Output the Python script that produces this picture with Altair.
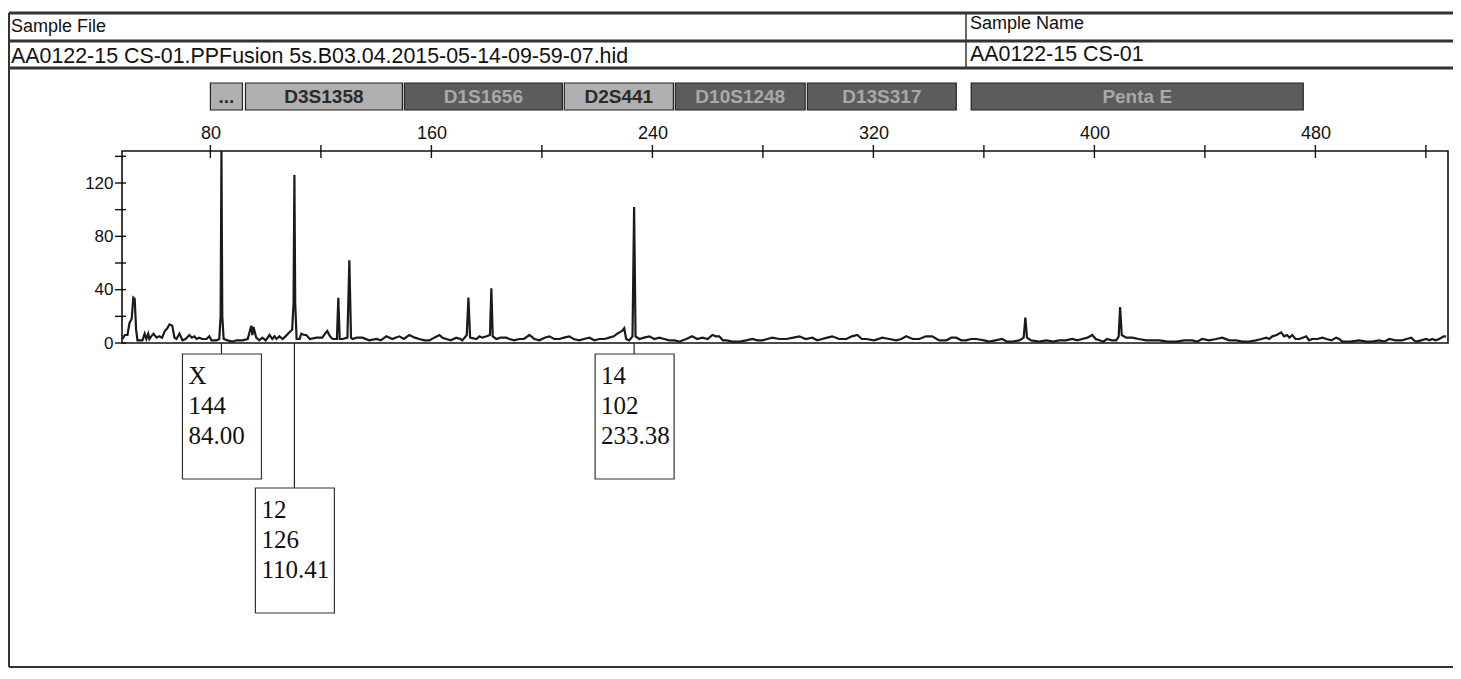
import altair as alt
import pandas as pd

# ---------------- data ----------------
trace_size = [48.2, 49.0, 50.0, 50.7, 51.5, 52.1, 52.6, 53.1, 53.6, 55.4, 56.2, 56.8, 57.5, 57.9, 58.6, 59.4,
              60.5, 61.5, 62.5, 63.5, 64.4, 65.2, 66.2, 67.0, 67.7, 68.8, 69.9, 71.0, 72.4, 73.3, 74.2, 75.0,
              76.0, 77.0, 78.6, 79.6, 80.4, 82.2, 83.2, 83.7, 84.0, 84.3, 84.8, 86.2, 88.0, 89.4, 91.6, 93.5,
              94.8, 95.2, 95.6, 96.6, 97.7, 98.8, 100.0, 101.4, 102.4, 103.2, 103.9, 105.0, 106.1, 107.2, 108.6,
              109.6, 110.1, 110.41, 110.7, 111.2, 112.3, 112.9, 114.0, 114.7, 116.0, 118.4, 120.5, 121.5, 122.3,
              123.3, 124.2, 125.8, 126.3, 126.8, 127.8, 129.6, 130.3, 130.9, 131.4, 133.0, 135.0, 137.5, 140.1,
              141.7, 143.7, 145.9, 147.0, 148.4, 150.0, 152.0, 154.0, 155.6, 157.5, 159.3, 161.0, 162.9, 164.0,
              165.4, 167.0, 169.0, 170.5, 171.2, 172.8, 173.4, 174.0, 176.3, 177.4, 178.4, 180.0, 181.2, 181.7,
              182.2, 183.5, 185.0, 187.1, 188.2, 190.0, 191.8, 193.5, 195.5, 197.3, 199.1, 201.0, 202.7, 204.5,
              206.3, 208.0, 209.9, 211.5, 213.5, 215.2, 217.2, 219.0, 220.8, 222.7, 224.4, 226.0, 227.3, 229.0,
              229.8, 230.5, 231.6, 232.8, 233.38, 233.9, 235.3, 237.0, 238.9, 240.7, 242.5, 244.3, 246.1, 248.0,
              249.8, 251.0, 252.3, 254.4, 256.2, 258.1, 260.0, 261.7, 263.0, 264.2, 265.5, 266.8, 269.0, 271.5,
              274.0, 276.2, 278.0, 279.8, 281.6, 283.4, 285.9, 288.5, 291.0, 293.2, 295.5, 297.9, 299.7, 301.5,
              303.3, 305.1, 307.6, 310.2, 312.2, 314.2, 315.8, 317.4, 320.3, 323.2, 325.7, 328.3, 330.1, 331.9,
              334.2, 336.6, 339.0, 341.3, 343.8, 346.4, 348.2, 350.0, 351.8, 353.6, 355.4, 357.2, 360.1, 361.9,
              364.2, 366.6, 368.4, 370.3, 372.8, 374.4, 375.0, 375.6, 377.1, 380.0, 382.6, 385.0, 387.3, 389.6,
              392.0, 393.8, 395.6, 397.5, 399.2, 400.5, 401.8, 403.2, 404.6, 406.3, 407.9, 408.8, 409.3, 409.9,
              411.5, 413.7, 416.0, 418.8, 421.0, 423.5, 426.5, 429.6, 432.5, 435.4, 437.2, 439.0, 441.5, 444.1,
              446.3, 448.8, 451.3, 453.6, 456.0, 458.5, 460.5, 462.2, 463.3, 464.4, 466.0, 467.6, 468.7, 469.8,
              470.6, 471.6, 472.8, 474.1, 475.4, 476.7, 477.7, 478.8, 480.7, 482.5, 484.0, 485.8, 487.5, 488.6,
              489.7, 492.7, 495.8, 498.4, 500.5, 503.1, 505.0, 506.7, 509.0, 511.4, 513.0, 514.7, 515.7, 516.5,
              518.3, 520.1, 521.3, 522.3, 523.5, 524.8, 526.5, 527.3]
trace_rfu = [3, 6, 6, 15, 18, 34, 33, 10, 2, 2, 7, 3, 7, 3, 5, 7,
             4, 5, 4, 9, 11, 14, 13, 4, 3, 7, 2, 3, 6, 4, 5, 3,
             4, 3, 3, 5, 2, 2, 3, 20, 144, 20, 3, 2, 1, 2, 2, 3,
             13, 6, 12, 4, 2, 4, 2, 6, 3, 5, 3, 5, 3, 5, 8,
             10, 30, 126, 30, 3, 3, 7, 6, 6, 3, 4, 4, 7, 9,
             5, 3, 3, 34, 3, 3, 4, 62, 4, 3, 4, 4, 2, 3,
             2, 5, 3, 4, 5, 3, 6, 4, 3, 2, 2, 4, 6, 4,
             3, 2, 4, 3, 2, 6, 34, 4, 3, 5, 4, 5, 6, 41,
             5, 3, 4, 4, 3, 2, 3, 3, 6, 3, 2, 4, 5, 3,
             3, 4, 5, 3, 2, 3, 4, 2, 3, 3, 4, 5, 7, 9,
             11, 3, 2, 5, 102, 5, 3, 4, 5, 3, 4, 3, 2, 2,
             1, 2, 3, 5, 3, 4, 3, 6, 5, 5, 2, 2, 1, 1,
             2, 3, 2, 2, 3, 4, 3, 3, 4, 5, 3, 4, 2, 3,
             4, 5, 3, 3, 5, 6, 3, 3, 2, 4, 3, 2, 3, 5,
             3, 3, 5, 5, 2, 2, 4, 4, 2, 2, 3, 3, 2, 1,
             2, 3, 1, 1, 2, 4, 19, 4, 2, 1, 2, 1, 2, 2,
             3, 2, 3, 4, 6, 3, 2, 1, 3, 2, 2, 5, 27, 6,
             4, 4, 3, 2, 2, 2, 1, 1, 2, 2, 1, 3, 2, 3,
             4, 2, 2, 1, 1, 2, 3, 4, 3, 5, 6, 8, 5, 6,
             4, 6, 3, 3, 4, 5, 2, 3, 3, 4, 3, 2, 4, 3,
             1, 1, 2, 1, 1, 2, 1, 3, 2, 2, 3, 4, 2, 1,
             2, 3, 2, 3, 2, 3, 5, 5]

# called alleles
allele_label = ["X", "12", "14"]
allele_height = [144, 126, 102]
allele_size = [84.00, 110.41, 233.38]
allele_row = [0, 1, 0]

# marker bins (bp)
marker_name = ["...", "D3S1358", "D1S1656", "D2S441", "D10S1248", "D13S317", "Penta E"]
marker_start = [80.0, 92.7, 150.2, 208.1, 248.3, 296.1, 355.4]
marker_end = [91.6, 149.5, 207.4, 247.6, 295.3, 350.0, 475.6]
marker_shade = ["light", "light", "dark", "light", "dark", "dark", "dark"]

x_tick_values = [80, 120, 160, 200, 240, 280, 320, 360, 400, 440, 480, 520]
x_label_values = [80, 160, 240, 320, 400, 480]
y_tick_values = [0, 20, 40, 60, 80, 100, 120, 140]
y_label_values = [0, 40, 80, 120]

sample_file_label = "Sample File"
sample_file = "AA0122-15 CS-01.PPFusion  5s.B03.04.2015-05-14-09-59-07.hid"
sample_name_label = "Sample Name"
sample_name = "AA0122-15 CS-01"

# ---------------- layout ----------------
W, H = 1326, 192
LEFT, TOP = 122, 151          # page position of the plot area


def VX(px):
    return px - LEFT


def VY(py):
    return py - TOP


xscale = alt.Scale(domain=[48, 528], nice=False, zero=False)
yscale = alt.Scale(domain=[0, 144], nice=False, zero=False)
xaxis = alt.Axis(orient="top", values=x_label_values, ticks=False, domain=False, grid=False,
                 labelPadding=9, labelFontSize=18, format="d", title=None)
yaxis = alt.Axis(values=y_label_values, ticks=False, domain=False, grid=False,
                 labelPadding=9, labelFontSize=17, format="d", title=None)

one = pd.DataFrame({"k": [0]})


def rule(x1, x2, y1, y2, w=2.5, color="#333"):
    return alt.Chart(one).mark_rule(strokeWidth=w, color=color).encode(
        x=alt.value(x1), x2=alt.value(x2), y=alt.value(y1), y2=alt.value(y2))


def label(text, px, py, size, font="Liberation Sans"):
    return alt.Chart(pd.DataFrame({"t": [text]})).mark_text(
        align="left", baseline="middle", font=font, fontSize=size, color="#111").encode(
        x=alt.value(VX(px)), y=alt.value(VY(py)), text="t:N")


# header frame
header = [
    rule(VX(9), VX(1453), VY(13), VY(13), 3.2),
    rule(VX(9), VX(1453), VY(41), VY(41), 3),
    rule(VX(9), VX(1453), VY(68), VY(68), 3),
    rule(VX(966), VX(966), VY(13), VY(68), 1.5),
    rule(VX(9), VX(9), VY(13), VY(667), 2),
    rule(VX(9), VX(1453), VY(667), VY(667), 2),
    label(sample_file_label, 11, 27, 18),
    label(sample_file, 11, 57, 21.4),
    label(sample_name_label, 970, 24, 18),
    label(sample_name, 970, 55, 21.4),
]

# marker bar
marker_df = pd.DataFrame({"name": marker_name, "start": marker_start, "end": marker_end, "shade": marker_shade})
shade_fill = alt.Scale(domain=["light", "dark"], range=["#b0b0b0", "#5c5c5c"])
shade_text = alt.Scale(domain=["light", "dark"], range=["#2a2a2a", "#a9a9a9"])
marker_boxes = alt.Chart(marker_df).mark_rect(stroke="#222", strokeWidth=1.2).encode(
    x=alt.X("start:Q", scale=xscale, axis=xaxis),
    x2="end:Q",
    y=alt.value(VY(83)), y2=alt.value(VY(110)),
    fill=alt.Fill("shade:N", scale=shade_fill, legend=None))
marker_text = alt.Chart(marker_df).transform_calculate(mid="(datum.start + datum.end) / 2").mark_text(
    font="Liberation Sans", fontSize=19, fontWeight="bold", baseline="middle").encode(
    x=alt.X("mid:Q", scale=xscale, axis=xaxis),
    y=alt.value(VY(97)),
    text="name:N",
    color=alt.Color("shade:N", scale=shade_text, legend=None))

# trace
trace_df = pd.DataFrame({"size": trace_size, "rfu": trace_rfu})
trace = alt.Chart(trace_df).mark_line(color="#1a1a1a", strokeWidth=2.2, strokeJoin="miter").encode(
    x=alt.X("size:Q", scale=xscale, axis=xaxis),
    y=alt.Y("rfu:Q", scale=yscale, axis=yaxis))

# crossing ticks
xt = alt.Chart(pd.DataFrame({"v": x_tick_values})).mark_rule(color="#111", strokeWidth=1.4).encode(
    x=alt.X("v:Q", scale=xscale, axis=xaxis), y=alt.value(-6), y2=alt.value(7))
yt = alt.Chart(pd.DataFrame({"v": y_tick_values})).mark_rule(color="#111", strokeWidth=1.4).encode(
    y=alt.Y("v:Q", scale=yscale, axis=yaxis), x=alt.value(-7), x2=alt.value(4))

# allele annotation boxes
allele_df = pd.DataFrame({"allele": allele_label, "height": allele_height,
                          "size": allele_size, "row": allele_row})
box_tops = {0: VY(354), 1: VY(488)}
annot = []
for r, top in box_tops.items():
    src = alt.Chart(allele_df).transform_filter(f"datum.row == {r}")
    annot.append(src.mark_rule(color="#222", strokeWidth=1.2).encode(
        x=alt.X("size:Q", scale=xscale, axis=xaxis), y=alt.value(H), y2=alt.value(top)))
    annot.append(src.mark_rect(fill="white", stroke="#333", strokeWidth=1.2, xOffset=-39, x2Offset=40).encode(
        x=alt.X("size:Q", scale=xscale, axis=xaxis), x2="size:Q",
        y=alt.value(top), y2=alt.value(top + 125)))
    for i, (fld, fmt) in enumerate([("allele", None), ("height", "d"), ("size", ".2f")]):
        enc_text = alt.Text(f"{fld}:N") if fmt is None else alt.Text(f"{fld}:Q", format=fmt)
        annot.append(src.mark_text(align="left", baseline="middle", font="Liberation Serif",
                                   fontSize=25, color="#111", dx=-33).encode(
            x=alt.X("size:Q", scale=xscale, axis=xaxis),
            y=alt.value(top + 22 + 30 * i), text=enc_text))

chart = alt.layer(*header, marker_boxes, marker_text, trace, xt, yt, *annot).properties(
    width=W, height=H,
    autosize=alt.AutoSizeParams(type="none"),
    padding={"left": LEFT - 8, "top": TOP - 8, "right": 5, "bottom": 326},
    background="white",
).configure_view(stroke="#111", strokeWidth=1.6).configure_axis(
    labelFont="Liberation Sans", labelColor="#111")

chart.save("out.html", embed_options={"renderer": "svg", "actions": False})
